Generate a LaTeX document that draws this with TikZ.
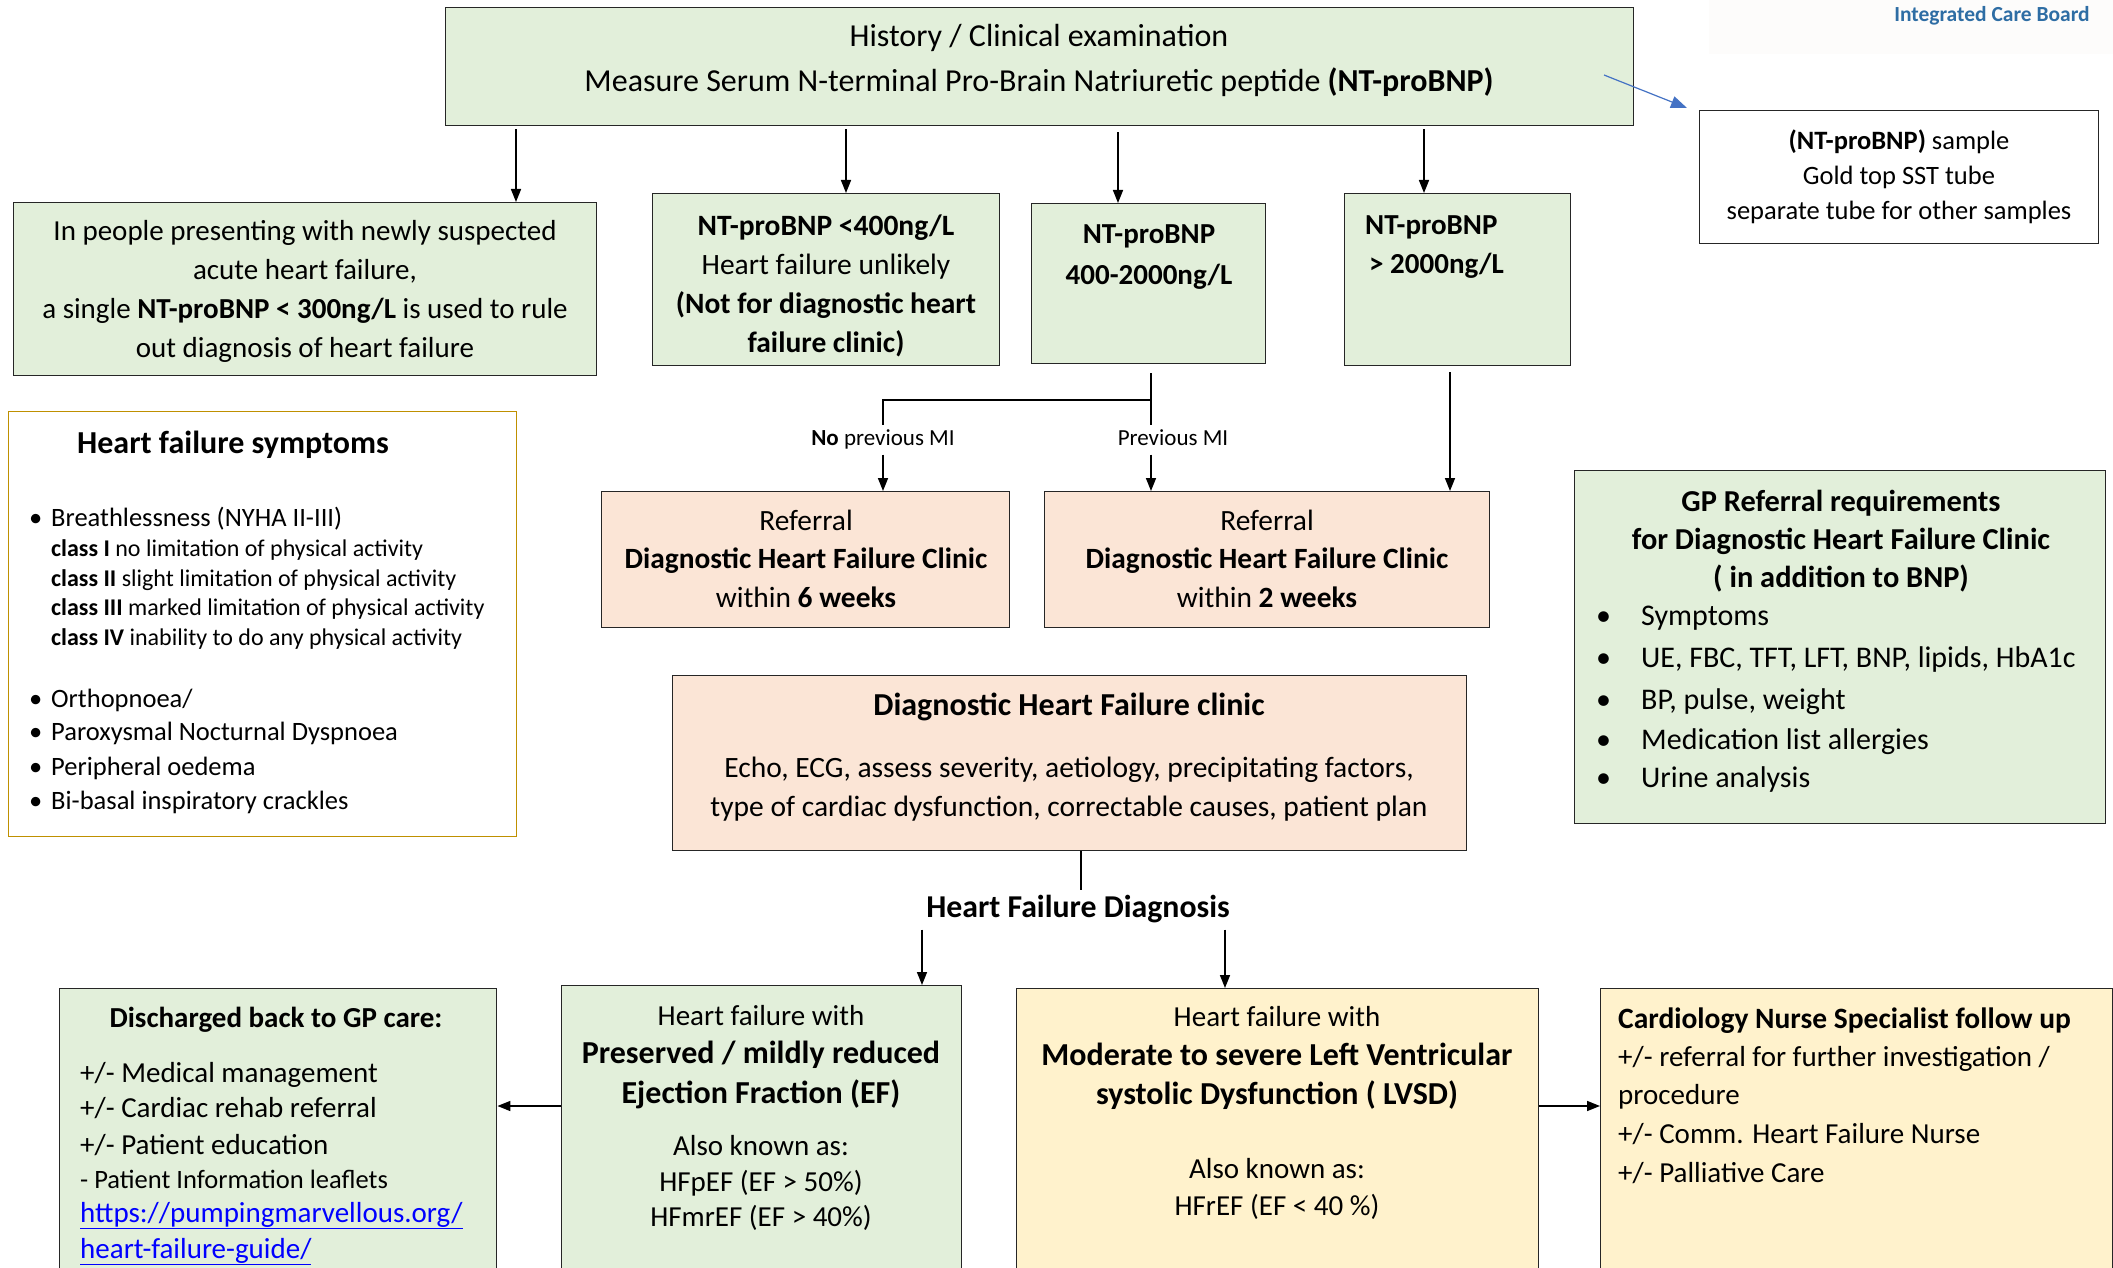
\documentclass[tikz,border=0pt]{standalone}
\usepackage{fontspec}
\setmainfont{Carlito}
\usetikzlibrary{arrows.meta,calc}
\definecolor{gfill}{HTML}{E2EFDA}
\definecolor{pfill}{HTML}{FBE5D6}
\definecolor{yfill}{HTML}{FFF2CC}
\definecolor{goldb}{HTML}{BF9000}
\definecolor{icb}{HTML}{2E6DA4}
\definecolor{arrblue}{HTML}{4472C4}
\definecolor{linkblue}{HTML}{0000FF}
\definecolor{logobg}{HTML}{FDFCFB}
\newcommand\fsz[2]{\fontsize{#1}{#2}\selectfont}
\begin{document}
\begin{tikzpicture}[x=1pt,y=-1pt,
  box/.style={draw=black!85, line width=1.4pt, inner sep=0pt, anchor=north west},
  txt/.style={inner sep=0pt, align=center, execute at begin node=\strut, execute at end node=\strut},
  sa/.style={yshift=-3pt},
  sb/.style={yshift=-6pt},
  li/.style={inner sep=0pt, anchor=west, yshift=-3.5pt, execute at begin node=\strut},
  arr/.style={line width=1.6pt, -{Triangle[length=13pt,width=10pt]}},
  ln/.style={line width=1.6pt},
]
\clip (0,0) rectangle (2113,1268);
\fill[white] (0,0) rectangle (2113,1268);

% logo banner
\node[fill=logobg, inner sep=0pt, minimum width=404pt, minimum height=54pt, anchor=north west] (logo) at (1709,0) {};
\node[inner sep=0pt, text=icb, font=\fsz{21.5}{26}\bfseries] (logoT) at (1992,16) {Integrated Care Board};

% boxes
\node[box, fill=gfill, minimum width=1188pt, minimum height=118pt] (top) at (445,7) {};
\node[box, fill=gfill, minimum width=583pt, minimum height=173pt] (A) at (13,202) {};
\node[box, fill=gfill, minimum width=347pt, minimum height=172pt] (B) at (652,193) {};
\node[box, fill=gfill, minimum width=234pt, minimum height=160pt] (C) at (1031,203) {};
\node[box, fill=gfill, minimum width=226pt, minimum height=172pt] (D) at (1344,193) {};
\node[box, fill=white, minimum width=399pt, minimum height=133pt] (sample) at (1699,110) {};
\node[box, draw=goldb, fill=white, minimum width=508pt, minimum height=425pt] (sym) at (8,411) {};
\node[box, fill=pfill, minimum width=408pt, minimum height=136pt] (R6) at (601,491) {};
\node[box, fill=pfill, minimum width=445pt, minimum height=136pt] (R2) at (1044,491) {};
\node[box, fill=gfill, minimum width=531pt, minimum height=353pt] (GP) at (1574,470) {};
\node[box, fill=pfill, minimum width=794pt, minimum height=175pt] (clinic) at (672,675) {};
\node[box, fill=gfill, minimum width=437pt, minimum height=320pt] (disch) at (59,988) {};
\node[box, fill=gfill, minimum width=400pt, minimum height=320pt] (pres) at (561,985) {};
\node[box, fill=yfill, minimum width=522pt, minimum height=320pt] (lvsd) at (1016,988) {};
\node[box, fill=yfill, minimum width=512pt, minimum height=320pt] (card) at (1600,988) {};

% texts
\node[txt, sb, font=\fsz{32}{45}] (topT) at (1039,58.5) {History / Clinical examination\\Measure Serum N-terminal Pro-Brain Natriuretic peptide \textbf{(NT-proBNP)}};
\node[txt, sb, font=\fsz{29}{39}] (AT) at (305,289) {In people presenting with newly suspected\\acute heart failure,\\a single \textbf{NT-proBNP < 300ng/L} is used to rule\\out diagnosis of heart failure};
\node[txt, sb, font=\fsz{29.5}{39}] (BT) at (826,283.5) {\textbf{NT-proBNP <400ng/L}\\Heart failure unlikely\\\textbf{(Not for diagnostic heart}\\\textbf{failure clinic)}};
\node[txt, sb, font=\fsz{29}{41}\bfseries] (CT) at (1149,254.5) {NT-proBNP\\400-2000ng/L};
\node[txt, sb, align=left, anchor=west, font=\fsz{29}{39}\bfseries] (DT) at (1365,244.5) {NT-proBNP\\\hspace*{4pt}> 2000ng/L};
\node[txt, sb, font=\fsz{26.5}{35}] (ST) at (1899,174) {\textbf{(NT-proBNP)} sample\\Gold top SST tube\\separate tube for other samples};
\node[txt, sb, font=\fsz{29.4}{38.5}] (R6T) at (806,558.5) {Referral\\\textbf{Diagnostic Heart Failure Clinic}\\within \textbf{6 weeks}};
\node[txt, sb, font=\fsz{29.4}{38.5}] (R2T) at (1267,558.5) {Referral\\\textbf{Diagnostic Heart Failure Clinic}\\within \textbf{2 weeks}};

% symptoms
\node[li, font=\fsz{32}{40}\bfseries] (symT) at (77,442) {Heart failure symptoms};
\foreach \y/\t [count=\i] in {516/{Breathlessness (NYHA II-III)}, 697/{Orthopnoea/}, 730/{Paroxysmal Nocturnal Dyspnoea}, 765/{Peripheral oedema}, 799/{Bi-basal inspiratory crackles}}
  \node[li, font=\fsz{26.5}{34}] (symB\i) at (29,\y) {\makebox[22pt][l]{\textbullet}\t};
\foreach \y/\a/\b [count=\i] in {547/I/{no limitation of physical activity}, 577/II/{slight limitation of physical activity}, 606/III/{marked limitation of physical activity}, 636/IV/{inability to do any physical activity}}
  \node[li, font=\fsz{24}{30}] (symC\i) at (51,\y) {\textbf{class \a} \b};

% GP requirements
\node[txt, sb, font=\fsz{30.4}{38}\bfseries] (GPT) at (1841,539) {GP Referral requirements\\for Diagnostic Heart Failure Clinic\\( in addition to BNP)};
\foreach \y/\t [count=\i] in {614/{Symptoms}, 656/{UE, FBC, TFT, LFT, BNP, lipids, HbA1c}, 698/{BP, pulse, weight}, 738/{Medication list allergies}, 776/{Urine analysis}}
  \node[li, font=\fsz{30}{38}] (gp\i) at (1596,\y) {\makebox[45pt][l]{\textbullet}\t};

% clinic
\node[txt, sa, font=\fsz{32}{39}\bfseries] (clT) at (1069,705) {Diagnostic Heart Failure clinic};
\node[txt, sb, font=\fsz{29.5}{39}] (clB) at (1069,786.5) {Echo, ECG, assess severity, aetiology, precipitating factors,\\type of cardiac dysfunction, correctable causes, patient plan};
\node[txt, sa, font=\fsz{31.8}{39}\bfseries] (diag) at (1078,907) {Heart Failure Diagnosis};

% branch labels
\node[txt, sa, font=\fsz{23}{29}] (nmi) at (883,437) {\textbf{No} previous MI};
\node[txt, sa, font=\fsz{23}{29}] (pmi) at (1173,437) {Previous MI};

% discharged
\node[txt, sa, font=\fsz{29}{38}\bfseries] (dT) at (276,1017) {Discharged back to GP care:};
\foreach \y/\t [count=\i] in {1071/{+/- Medical management}, 1106/{+/- Cardiac rehab referral}, 1143/{+/- Patient education}}
  \node[li, font=\fsz{29}{38}] (d\i) at (80,\y) {\t};
\node[li, font=\fsz{26.5}{34}] (d4) at (80,1178) {- Patient Information leaflets};
\node[li, font=\fsz{29}{38}, text=linkblue] (d5) at (80,1211) {\underline{https://pumpingmarvellous.org/}};
\node[li, font=\fsz{29}{38}, text=linkblue] (d6) at (80,1247) {\underline{heart-failure-guide/}};

% preserved
\node[txt, sa, font=\fsz{29}{38}] (p1) at (761,1015) {Heart failure with};
\node[txt, sb, font=\fsz{32}{40}\bfseries] (p2) at (761,1072) {Preserved / mildly reduced\\Ejection Fraction (EF)};
\node[txt, sb, font=\fsz{29}{35.5}] (p3) at (761,1180.5) {Also known as:\\HFpEF (EF > 50\%)\\HFmrEF (EF > 40\%)};

% LVSD
\node[txt, sa, font=\fsz{29}{38}] (l1) at (1277,1016) {Heart failure with};
\node[txt, sb, font=\fsz{32}{39}\bfseries] (l2) at (1277,1073.5) {Moderate to severe Left Ventricular\\systolic Dysfunction ( LVSD)};
\node[txt, sb, font=\fsz{29}{37}] (l3) at (1277,1186.5) {Also known as:\\HFrEF (EF < 40 \%)};

% cardiology
\node[li, font=\fsz{29.5}{38}\bfseries] (cT) at (1618,1017) {Cardiology Nurse Specialist follow up};
\foreach \y/\t [count=\i] in {1055/{+/- referral for further investigation /}, 1093/{procedure}, 1132/{+/- Comm. Heart Failure Nurse}, 1171/{+/- Palliative Care}}
  \node[li, font=\fsz{29}{38}] (c\i) at (1618,\y) {\t};

% connectors
\coordinate (xa) at (516,0);
\coordinate (xb) at (846,0);
\coordinate (xc) at (1118,0);
\coordinate (xd) at (1424,0);
\coordinate (xe) at (1450,0);
\coordinate (xbr) at (1151,0);
\coordinate (ybr) at (0,400);
\coordinate (xf) at (1081,0);
\coordinate (xg) at (922,0);
\coordinate (xh) at (1225,0);
\coordinate (yside) at (0,1106);
\coordinate (bs) at (1604,75);

\draw[arr] ($(top.south -| xa)+(0,3)$) -- (A.north -| xa);
\draw[arr] ($(top.south -| xb)+(0,3)$) -- (B.north -| xb);
\draw[arr] ($(top.south -| xc)+(0,6)$) -- (C.north -| xc);
\draw[arr] ($(top.south -| xd)+(0,3)$) -- (D.north -| xd);
\draw[arrblue, line width=1.2pt, -{Triangle[length=16pt,width=12pt]}] (bs) -- ($(sample.north west)+(-12,-2)$);

\coordinate (cb) at ($(C.south -| xbr)+(0,9)$);
\draw[ln] (cb) -- (xbr |- ybr) -| (nmi.north);
\draw[ln] (xbr |- ybr) -- (pmi.north -| xbr);
\draw[arr] (nmi.south) -- (R6.north -| nmi.south);
\draw[arr] (pmi.south -| xbr) -- (R2.north -| xbr);
\draw[arr] ($(D.south -| xe)+(0,6)$) -- (R2.north -| xe);

\draw[ln] (clinic.south -| xf) -- (diag.north -| xf);
\draw[arr] (diag.south -| xg) -- (pres.north -| xg);
\draw[arr] (diag.south -| xh) -- (lvsd.north -| xh);
\draw[arr] (pres.west |- yside) -- (disch.east |- yside);
\draw[arr] (lvsd.east |- yside) -- (card.west |- yside);
\end{tikzpicture}
\end{document}
